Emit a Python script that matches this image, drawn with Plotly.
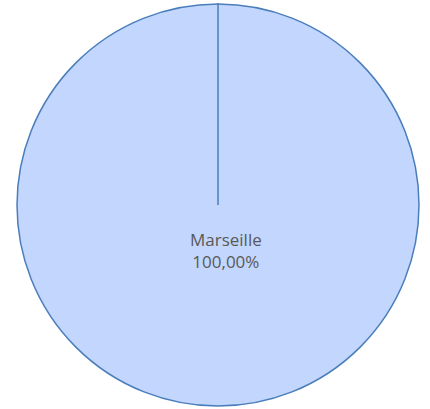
import plotly.graph_objects as go

# Data
labels = ["Marseille"]
values = [100.0]

W, H = 430, 409
total = sum(values)
pct_text = [f"{v / total * 100:.2f}".replace(".", ",") + "%" for v in values]

# pie domain (paper fractions)
dx = [17 / W, 419 / W]
dy = [(H - 407) / H, (H - 3) / H]
cx = (dx[0] + dx[1]) / 2
cy = (dy[0] + dy[1]) / 2

fig = go.Figure(go.Pie(
    labels=labels,
    values=values,
    sort=False,
    direction="clockwise",
    rotation=0,
    textinfo="none",
    hoverinfo="label+percent",
    marker=dict(colors=["#c3d6fd"], line=dict(color="#4a7ebb", width=1.5)),
    domain=dict(x=dx, y=dy),
    showlegend=False,
))

# radial slice border from centre to top
fig.add_shape(type="line", xref="paper", yref="paper",
              x0=cx, x1=cx, y0=cy, y1=dy[1],
              line=dict(color="#4a7ebb", width=1.5))

fig.add_annotation(
    x=cx + 8 / W, y=cy - 45 / H, xref="paper", yref="paper",
    text=f"{labels[0]}<br>{pct_text[0]}",
    showarrow=False,
    font=dict(family="Open Sans, Liberation Sans, sans-serif", size=17, color="#595959"),
    align="center",
)

fig.update_layout(
    width=W, height=H,
    margin=dict(l=0, r=0, t=0, b=0),
    paper_bgcolor="white",
    plot_bgcolor="white",
)

fig.write_html("out.html",
               config={"displayModeBar": False},
               post_script="document.body.style.margin='0';document.body.style.overflow='hidden';")
